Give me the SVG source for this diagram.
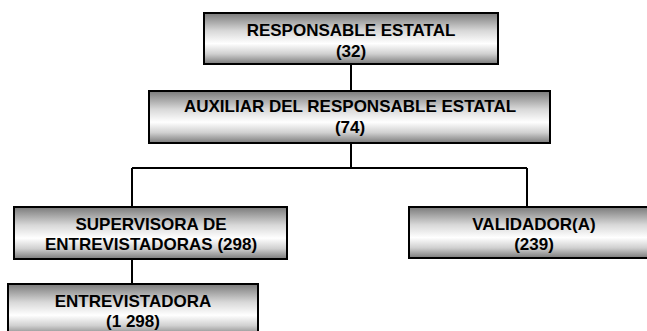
<svg xmlns="http://www.w3.org/2000/svg" width="647" height="331" viewBox="0 0 647 331">
<defs>
<linearGradient id="g" x1="0" y1="0" x2="0" y2="1">
<stop offset="0" stop-color="#7a7a7a"/>
<stop offset="0.35" stop-color="#d8d8d8"/>
<stop offset="0.6" stop-color="#ffffff"/>
<stop offset="0.8" stop-color="#d0d0d0"/>
<stop offset="1" stop-color="#7a7a7a"/>
</linearGradient>
</defs>
<style>
.box{fill:url(#g);stroke:#000;stroke-width:2}
.t{font-family:"Liberation Sans",Arial,sans-serif;font-weight:bold;font-size:17px;text-anchor:middle;fill:#000}
.c{stroke:#000;stroke-width:2;fill:none}
</style>
<rect width="647" height="331" fill="#fff"/>
<g id="connectors">
<path class="c" d="M351 64V91"/>
<path class="c" d="M351 143V168"/>
<path class="c" d="M132 168H527"/>
<path class="c" d="M132 168V207"/>
<path class="c" d="M527 168V207"/>
<path class="c" d="M132 259V284"/>
</g>
<g id="responsable">
<rect class="box" x="204" y="13" width="294" height="51"/>
<text class="t" x="351" y="36">RESPONSABLE ESTATAL</text>
<text class="t" x="351" y="57">(32)</text>
</g>
<g id="auxiliar">
<rect class="box" x="149" y="91" width="401" height="52"/>
<text class="t" x="350" y="112">AUXILIAR DEL RESPONSABLE ESTATAL</text>
<text class="t" x="350" y="133">(74)</text>
</g>
<g id="supervisora">
<rect class="box" x="14" y="207" width="273" height="52"/>
<text class="t" x="151" y="230">SUPERVISORA DE</text>
<text class="t" x="151" y="250">ENTREVISTADORAS (298)</text>
</g>
<g id="validador">
<rect class="box" x="409" y="207" width="250" height="51"/>
<text class="t" x="534" y="230">VALIDADOR(A)</text>
<text class="t" x="534" y="250">(239)</text>
</g>
<g id="entrevistadora">
<rect class="box" x="8" y="284" width="250" height="52"/>
<text class="t" x="133" y="307">ENTREVISTADORA</text>
<text class="t" x="133" y="327">(1 298)</text>
</g>
</svg>
